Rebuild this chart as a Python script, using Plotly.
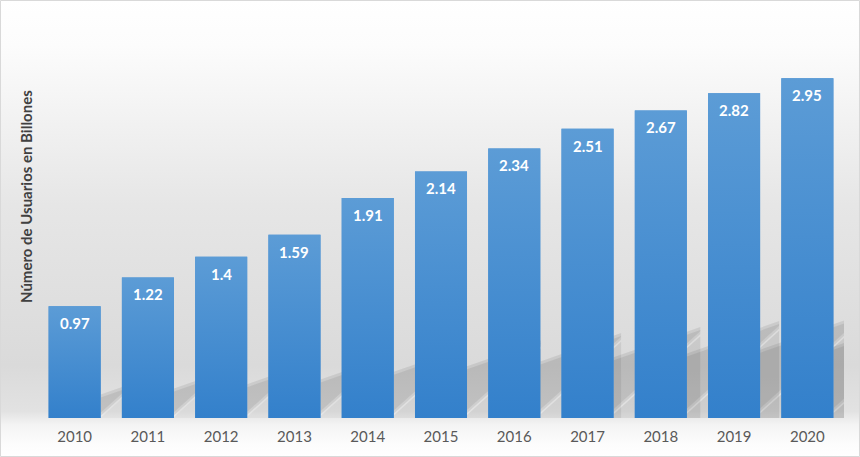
import base64
import plotly.graph_objects as go

# ==============================================================================
# DATOS
# ==============================================================================
YEARS = ['2010', '2011', '2012', '2013', '2014', '2015',
         '2016', '2017', '2018', '2019', '2020']
USERS = [0.97, 1.22, 1.4, 1.59, 1.91, 2.14, 2.34, 2.51, 2.67, 2.82, 2.95]
Y_TITLE = 'Número de Usuarios en Billones'

# ==============================================================================
# ESTILO
# ==============================================================================
W, H = 860, 457
M_L, M_R, M_T, M_B = 38, 16, 20, 39
PW, PH = W - M_L - M_R, H - M_T - M_B
BAR_W = 0.71
FONT = 'Lato'
PX_Y = 115.2                 # pixeles por unidad en y
PX_X = PW / len(YEARS)       # pixeles por categoria en x

# fondo degradado (blanco arriba, gris, blanco abajo) como imagen SVG
bg_svg = (
    '<svg xmlns="http://www.w3.org/2000/svg" width="860" height="457">'
    '<defs><linearGradient id="g" x1="0" y1="0" x2="0" y2="1">'
    '<stop offset="0" stop-color="#ffffff"/>'
    '<stop offset="0.1" stop-color="#fcfcfc"/>'
    '<stop offset="0.45" stop-color="#e6e6e6"/>'
    '<stop offset="0.8" stop-color="#dadada"/>'
    '<stop offset="0.9" stop-color="#e2e2e2"/>'
    '<stop offset="0.93" stop-color="#f4f4f4"/>'
    '<stop offset="0.97" stop-color="#fcfcfc"/>'
    '<stop offset="1" stop-color="#ffffff"/>'
    '</linearGradient></defs>'
    '<rect width="860" height="457" fill="url(#g)"/></svg>'
)
bg_uri = 'data:image/svg+xml;base64,' + base64.b64encode(bg_svg.encode()).decode()

x_idx = list(range(len(YEARS)))
v_max = max(USERS)

fig = go.Figure()

# barras base
fig.add_trace(go.Bar(
    x=x_idx,
    y=USERS,
    width=BAR_W,
    marker=dict(color='#4a8fd2', line=dict(width=0)),
    hovertemplate='%{y}<extra></extra>',
    showlegend=False
))

# degradado vertical encima de cada barra
for i, v in zip(x_idx, USERS):
    x0, x1 = i - BAR_W / 2, i + BAR_W / 2
    fig.add_trace(go.Scatter(
        x=[x0, x1, x1, x0, x0],
        y=[0, 0, v, v, 0],
        mode='lines',
        line=dict(width=0),
        fill='toself',
        fillgradient=dict(type='vertical',
                          colorscale=[[0, '#3380cb'], [1, '#5c9cd6']]),
        hoverinfo='skip',
        showlegend=False
    ))


def px_path(pts, x_ref):
    # puntos en pixeles relativos a (x_ref, 0) -> coordenadas de datos
    s = ' L '.join(f'{x_ref + px / PX_X},{py / PX_Y}' for px, py in pts)
    return f'M {s} Z'


# sombras en perspectiva a la derecha de cada barra
shapes = []
for i, v in zip(x_idx, USERS):
    x1 = i + BAR_W / 2
    h = v * PX_Y
    e = 0.3 * h
    lo, hi = 0.02 * h, 0.21 * h
    # franja superior (sombra proyectada)
    shapes.append(dict(
        type='path', xref='x', yref='y', layer='below',
        path=px_path([(0, lo), (0, hi), (e, hi + 0.35 * e), (e, lo + 0.9 * e)], x1),
        fillcolor='rgba(0,0,0,0.08)', line=dict(width=0)
    ))
    shapes.append(dict(
        type='path', xref='x', yref='y', layer='below',
        path=px_path([(0, lo + 3), (0, hi - 3), (e, hi - 3 + 0.35 * e), (e, lo + 3 + 0.9 * e)], x1),
        fillcolor='rgba(0,0,0,0.07)', line=dict(width=0)
    ))
    # suelo bajo la franja
    shapes.append(dict(
        type='path', xref='x', yref='y', layer='below',
        path=px_path([(0, 0), (0, lo - 2), (e, lo - 2 + 0.9 * e), (e, 0)], x1),
        fillcolor=f'rgba(0,0,0,{0.09 * v / v_max:.3f})', line=dict(width=0)
    ))

# borde exterior
shapes.append(dict(
    type='rect', xref='paper', yref='paper',
    x0=-(M_L - 0.5) / PW, x1=1 + (M_R - 0.5) / PW,
    y0=-(M_B - 0.5) / PH, y1=1 + (M_T - 0.5) / PH,
    line=dict(color='#d9d9d9', width=1), fillcolor='rgba(0,0,0,0)'
))

# etiquetas de valor
annotations = []
for i, v in zip(x_idx, USERS):
    annotations.append(dict(
        x=i, y=v, xref='x', yref='y', text=f'<b>{v}</b>',
        showarrow=False, yanchor='top', yshift=-6,
        font=dict(family=FONT, size=15, color='white')
    ))

# titulo eje y
annotations.append(dict(
    x=(26 - M_L) / PW, y=(H - M_B - 197) / PH, xref='paper', yref='paper',
    text=f'<b>{Y_TITLE}</b>', textangle=-90, showarrow=False,
    xanchor='center', yanchor='middle',
    font=dict(family=FONT, size=15, color='#404040')
))

fig.update_layout(
    width=W,
    height=H,
    margin=dict(l=M_L, r=M_R, t=M_T, b=M_B),
    paper_bgcolor='white',
    plot_bgcolor='rgba(0,0,0,0)',
    images=[dict(source=bg_uri, xref='paper', yref='paper',
                 x=-M_L / PW, y=1 + M_T / PH,
                 sizex=W / PW, sizey=H / PH,
                 xanchor='left', yanchor='top',
                 sizing='stretch', layer='below')],
    shapes=shapes,
    annotations=annotations,
    xaxis=dict(
        range=[-0.5, len(YEARS) - 0.5],
        tickmode='array',
        tickvals=x_idx,
        ticktext=YEARS,
        showgrid=False,
        zeroline=False,
        showline=False,
        ticks='',
        ticklabelstandoff=8,
        tickfont=dict(family=FONT, size=15, color='#595959'),
        fixedrange=True
    ),
    yaxis=dict(
        range=[0, PH / PX_Y],
        showgrid=False,
        zeroline=False,
        showline=False,
        showticklabels=False,
        fixedrange=True
    ),
    hovermode='closest'
)

# quitar el margen del body para que la figura ocupe toda la ventana
fig.write_html('out.html', config={'displayModeBar': False},
               post_script="document.body.style.margin='0';")
